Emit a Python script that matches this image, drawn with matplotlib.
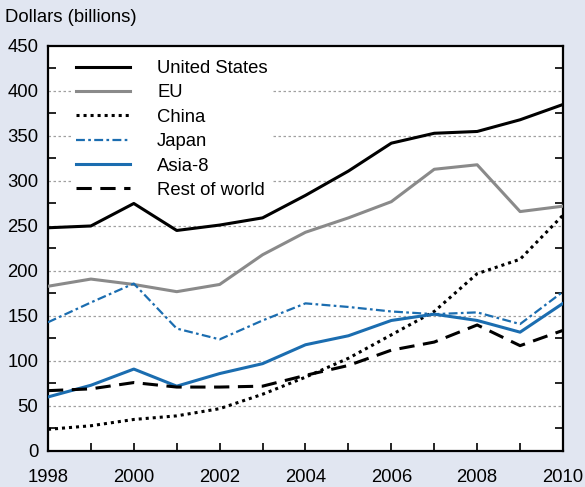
import numpy as np
import matplotlib.pyplot as plt
from matplotlib.ticker import MultipleLocator

plt.rcParams['font.family'] = ['Liberation Sans', 'DejaVu Sans']

# Datos (miles de millones de dolares)
anios = np.arange(1998, 2011)
estados_unidos = [248, 250, 275, 245, 251, 259, 284, 311, 342, 353, 355, 368, 385]
ue = [183, 191, 185, 177, 185, 218, 243, 259, 277, 313, 318, 266, 272]
china = [24, 28, 35, 39, 47, 63, 82, 103, 129, 155, 197, 213, 262]
japon = [143, 165, 186, 136, 124, 145, 164, 160, 155, 152, 154, 141, 177]
asia8 = [60, 73, 91, 72, 86, 97, 118, 128, 145, 152, 145, 132, 164]
resto = [67, 69, 76, 71, 71, 72, 84, 95, 112, 121, 140, 117, 134]

azul = '#1b6db0'
fondo = '#e1e6f1'
tam = 13.3

fig = plt.figure(figsize=(5.85, 4.87), dpi=100, facecolor=fondo)
ax = fig.add_axes([0.082, 0.074, 0.8804, 0.8316])
ax.set_facecolor('white')

# Lineas de cuadricula punteadas (50..400)
for v in range(50, 450, 50):
    ax.axhline(v, color='#a0a0a0', lw=0.9, ls=(0, (2, 2)), zorder=1)

ax.plot(anios, estados_unidos, color='black', lw=2.2, label='United States', zorder=3)
ax.plot(anios, ue, color='#8a8a8a', lw=2.2, label='EU', zorder=3)
ax.plot(anios, china, color='black', lw=2.2, ls=(0, (1, 1.3)), label='China', zorder=3)
ax.plot(anios, japon, color=azul, lw=1.6, ls=(0, (4, 1.5, 1.2, 1.5)), label='Japan', zorder=3)
ax.plot(anios, asia8, color=azul, lw=2.2, label='Asia-8', zorder=3)
ax.plot(anios, resto, color='black', lw=2.2, ls=(0, (5, 2.8)), label='Rest of world', zorder=3)

ax.set_xlim(1998, 2010)
ax.set_ylim(0, 450)

ax.xaxis.set_major_locator(MultipleLocator(2))
ax.xaxis.set_minor_locator(MultipleLocator(1))
ax.yaxis.set_major_locator(MultipleLocator(50))
ax.yaxis.set_minor_locator(MultipleLocator(25))

ax.tick_params(axis='x', which='both', direction='in', length=6, width=1.2,
               labelsize=tam, pad=13, top=False)
ax.tick_params(axis='y', which='major', length=0, labelsize=tam, pad=7)
ax.tick_params(axis='y', which='minor', direction='in', length=6, width=1.2,
               left=True, right=True)

for s in ax.spines.values():
    s.set_linewidth(1.6)

# la leyenda tapa la cuadricula pero no las series
leg = ax.legend(loc='upper left', bbox_to_anchor=(0.031, 0.995), fontsize=tam,
                handlelength=2.9, handletextpad=1.5, labelspacing=0.4,
                frameon=True, facecolor='white', edgecolor='none', framealpha=1,
                borderpad=0.15)
leg.set_zorder(2)

fig.text(0.009, 0.965, 'Dollars (billions)', fontsize=tam, ha='left', va='center')

fig.savefig('out.png', dpi=100, facecolor=fondo)
